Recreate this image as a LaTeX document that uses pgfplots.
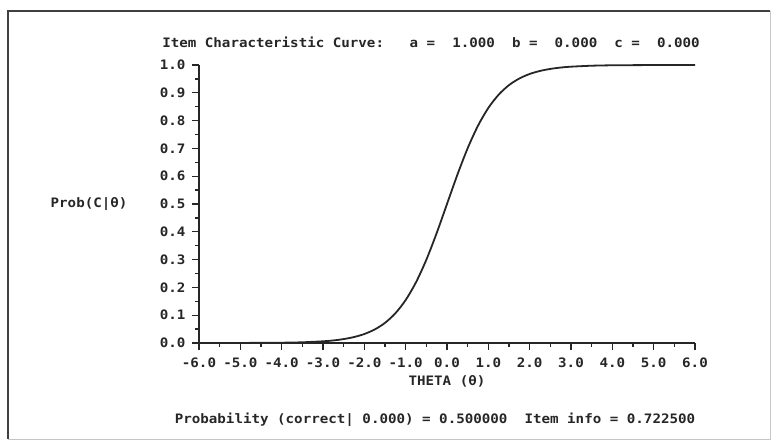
\documentclass[border=0pt]{standalone}
\usepackage{fontspec}
\setmainfont{DejaVu Sans Mono}[FakeStretch=1.09]
\usepackage{pgfplots}
\pgfplotsset{compat=1.18}
\newcommand{\dm}{\bfseries\fontsize{13}{15}\selectfont}
\begin{document}
\begin{tikzpicture}[x=1pt,y=1pt]
\path[use as bounding box] (0,0) rectangle (777,441);
\draw[gray!45, line width=0.8pt] (8,2) -- (770,2) -- (770,430);
\draw[black!75, line width=1.6pt] (8,2) -- (8,430) -- (770,430);
\begin{axis}[
  at={(199pt,98pt)}, anchor=south west,
  scale only axis, width=496pt, height=278pt,
  xmin=-6, xmax=6, ymin=0, ymax=1,
  axis x line*=bottom, axis y line*=left,
  axis line style={-, line width=1.4pt, black!85},
  tick align=outside,
  tick style={line width=1.3pt, black!85},
  major tick length=7pt, minor tick length=4pt,
  minor tick num=1,
  xtick={-6,-5,-4,-3,-2,-1,0,1,2,3,4,5,6},
  xticklabels={-6.0,-5.0,-4.0,-3.0,-2.0,-1.0,0.0,1.0,2.0,3.0,4.0,5.0,6.0},
  ytick={0,0.1,0.2,0.3,0.4,0.5,0.6,0.7,0.8,0.9,1.0},
  yticklabels={0.0,0.1,0.2,0.3,0.4,0.5,0.6,0.7,0.8,0.9,1.0},
  ticklabel style={font=\dm, text=black!85},
  xticklabel style={yshift=-4pt},
  yticklabel style={xshift=-3pt},
  clip=false,
]
\addplot[black!85, line width=1.8pt, smooth] coordinates {
(-6,0.00004) (-5,0.0002) (-4,0.0011) (-3.5,0.0026) (-3,0.0061) (-2.75,0.0092)
(-2.5,0.0141) (-2.25,0.0214) (-2,0.0323) (-1.75,0.0486) (-1.5,0.0724) (-1.25,0.1067)
(-1,0.1545) (-0.75,0.2184) (-0.5,0.2994) (-0.25,0.3953) (0,0.5) (0.25,0.6047)
(0.5,0.7006) (0.75,0.7816) (1,0.8455) (1.25,0.8933) (1.5,0.9276) (1.75,0.9514)
(2,0.9677) (2.25,0.9786) (2.5,0.9859) (2.75,0.9908) (3,0.9939) (3.5,0.9974)
(4,0.9989) (5,0.9998) (6,1.0)
};
\end{axis}
\node[font=\dm, text=black!85] at (431,399) {Item Characteristic Curve:~~~a~=~~1.000~~b~=~~0.000~~c~=~~0.000};
\node[font=\dm, text=black!85, anchor=east] at (131,237) {Prob(C|θ)};
\node[font=\dm, text=black!85] at (447,60) {THETA (θ)};
\node[font=\dm, text=black!85] at (435,21) {Probability (correct|~0.000)~=~0.500000~~Item info~=~0.722500};
\end{tikzpicture}
\end{document}
